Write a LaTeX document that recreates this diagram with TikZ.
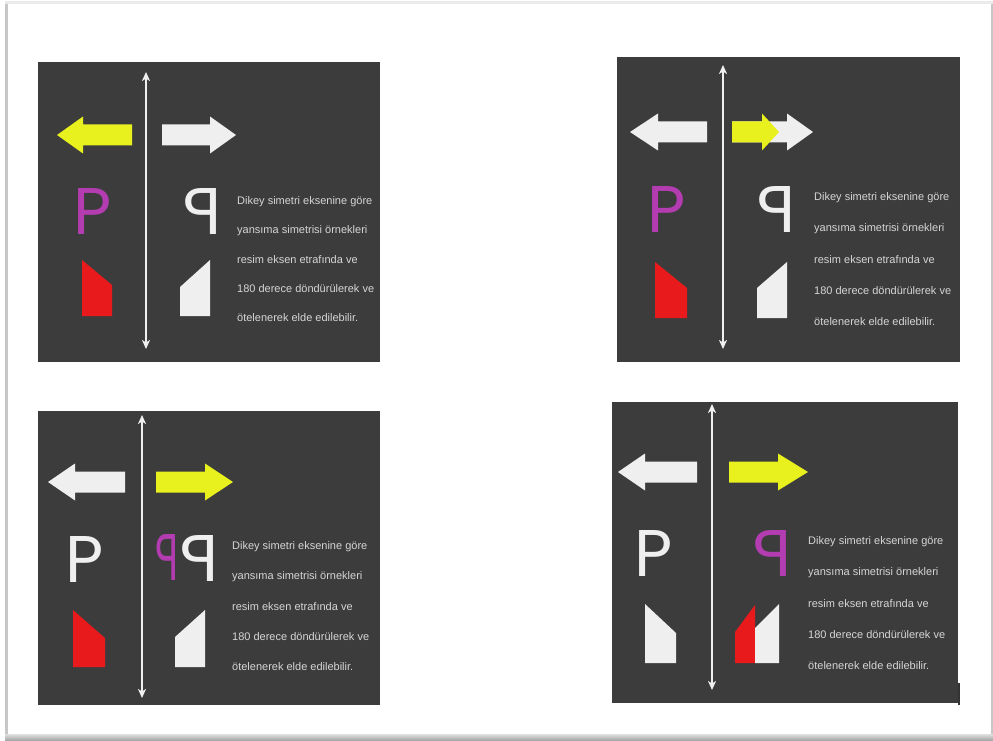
\documentclass[tikz,border=0pt]{standalone}
\usepackage{fontspec}
\usepackage{graphicx}
\setmainfont{Liberation Sans}
\newfontfamily\pfont{Poppins}
\usetikzlibrary{arrows.meta}
\definecolor{panelc}{HTML}{3C3C3C}
\definecolor{yel}{HTML}{E8F01E}
\definecolor{wht}{HTML}{EFEFEF}
\definecolor{redc}{HTML}{E81A1C}
\definecolor{mag}{HTML}{B23CB0}
\definecolor{txtc}{HTML}{D6D6D6}
\tikzset{
  axisline/.style={wht, line width=1.8pt, {Stealth[length=9pt,width=8pt,inset=2.5pt]}-{Stealth[length=9pt,width=8pt,inset=2.5pt]}},
  desc/.style={anchor=west, inner sep=0pt, text=txtc, font=\fontsize{11}{13}\selectfont},
  letter/.style={inner sep=0pt, font=\pfont\fontsize{66}{66}\selectfont},
}
\newcommand\barrow[5]{% colour, tail x, head base x, tip x, centre y
  \fill[#1] (#2,#5-10.5) -- (#3,#5-10.5) -- (#3,#5-18.5) -- (#4,#5) -- (#3,#5+18.5) -- (#3,#5+10.5) -- (#2,#5+10.5) -- cycle;}
\newcommand\ptext[4]{% name, x, first y, spacing
  \node[desc] (#1a) at (#2,#3) {Dikey simetri eksenine göre};
  \node[desc] (#1b) at (#2,#3+#4) {yansıma simetrisi örnekleri};
  \node[desc] (#1c) at (#2,#3+2*#4) {resim eksen etrafında ve};
  \node[desc] (#1d) at (#2,#3+3*#4) {180 derece döndürülerek ve};
  \node[desc] (#1e) at (#2,#3+4*#4) {ötelenerek elde edilebilir.};}
\begin{document}
\begin{tikzpicture}[x=1pt,y=-1pt]
\useasboundingbox (0,0) rectangle (993,741);
\fill[white] (0,0) rectangle (993,741);
% card frame with shadow
\fill[black!8] (5,1.5) rectangle (993,4);
\fill[black!22] (5,4) rectangle (993,741);
\shade[top color=black!12, bottom color=black!38] (5,734) rectangle (993,741);
\fill[white] (8,4) rectangle (991,734);

% ---------- panel 1 ----------
\fill[panelc] (38,62) rectangle (380,362);
\coordinate (a1t) at (146,72); \coordinate (a1b) at (146,349);
\draw[axisline] (a1t) -- (a1b);
\barrow{yel}{132}{83}{57}{135}
\barrow{wht}{162}{210}{236}{135}
\node[letter, text=mag] (p1l) at (92.5,211.5) {P};
\node[letter, text=wht] (p1r) at (202,211.5) {\reflectbox{P}};
\fill[redc] (82,260) -- (112,285) -- (112,316) -- (82,316) -- cycle;
\fill[wht] (210,260) -- (180,287) -- (180,316) -- (210,316) -- cycle;
\ptext{t1}{237}{202}{29}

% ---------- panel 2 ----------
\fill[panelc] (617,57) rectangle (960,362);
\coordinate (a2t) at (723,65); \coordinate (a2b) at (723,349);
\draw[axisline] (a2t) -- (a2b);
\barrow{wht}{707}{658}{630}{132}
\barrow{wht}{732}{787}{813}{132}
\barrow{yel}{732}{762}{779}{132}
\node[letter, text=mag] (p2l) at (667,209) {P};
\node[letter, text=wht] (p2r) at (776.5,209) {\reflectbox{P}};
\fill[redc] (655,262) -- (687,288) -- (687,318) -- (655,318) -- cycle;
\fill[wht] (787,262) -- (757,288) -- (757,318) -- (787,318) -- cycle;
\ptext{t2}{814}{198}{31}

% ---------- panel 3 ----------
\fill[panelc] (38,411) rectangle (380,705);
\coordinate (a3t) at (142,415); \coordinate (a3b) at (142,698);
\draw[axisline] (a3t) -- (a3b);
\barrow{wht}{125}{75}{48}{482}
\barrow{yel}{156}{205}{233}{482}
\node[letter, text=wht] (p3l) at (85,559) {P};
\node[letter, text=mag] (p3m) at (167.5,557) {\scalebox{-0.6}[1]{P}};
\node[letter, text=wht] (p3r) at (199,558) {\reflectbox{P}};
\fill[redc] (73,610) -- (105,638) -- (105,667) -- (73,667) -- cycle;
\fill[wht] (205,610) -- (175,637) -- (175,667) -- (205,667) -- cycle;
\ptext{t3}{232}{547}{30}

% ---------- panel 4 ----------
\fill[panelc] (612,402) rectangle (958,703);
\coordinate (a4t) at (712,404); \coordinate (a4b) at (712,690);
\draw[axisline] (a4t) -- (a4b);
\barrow{wht}{697}{645}{618}{472}
\barrow{yel}{729}{778}{808}{472}
\node[letter, text=wht] (p4l) at (654,553) {P};
\node[letter, text=mag] (p4r) at (772.5,553) {\reflectbox{P}};
\fill[wht] (645,604) -- (676,633) -- (676,663) -- (645,663) -- cycle;
\fill[redc] (735,632) -- (755,605) -- (755,663) -- (735,663) -- cycle;
\fill[wht] (755,628) -- (779,604) -- (779,663) -- (755,663) -- cycle;
\ptext{t4}{808}{542}{31}
\coordinate (m1) at (959,683); \coordinate (m2) at (959,705);
\draw[black!80, line width=1.5pt] (m1) -- (m2);
\end{tikzpicture}
\end{document}
